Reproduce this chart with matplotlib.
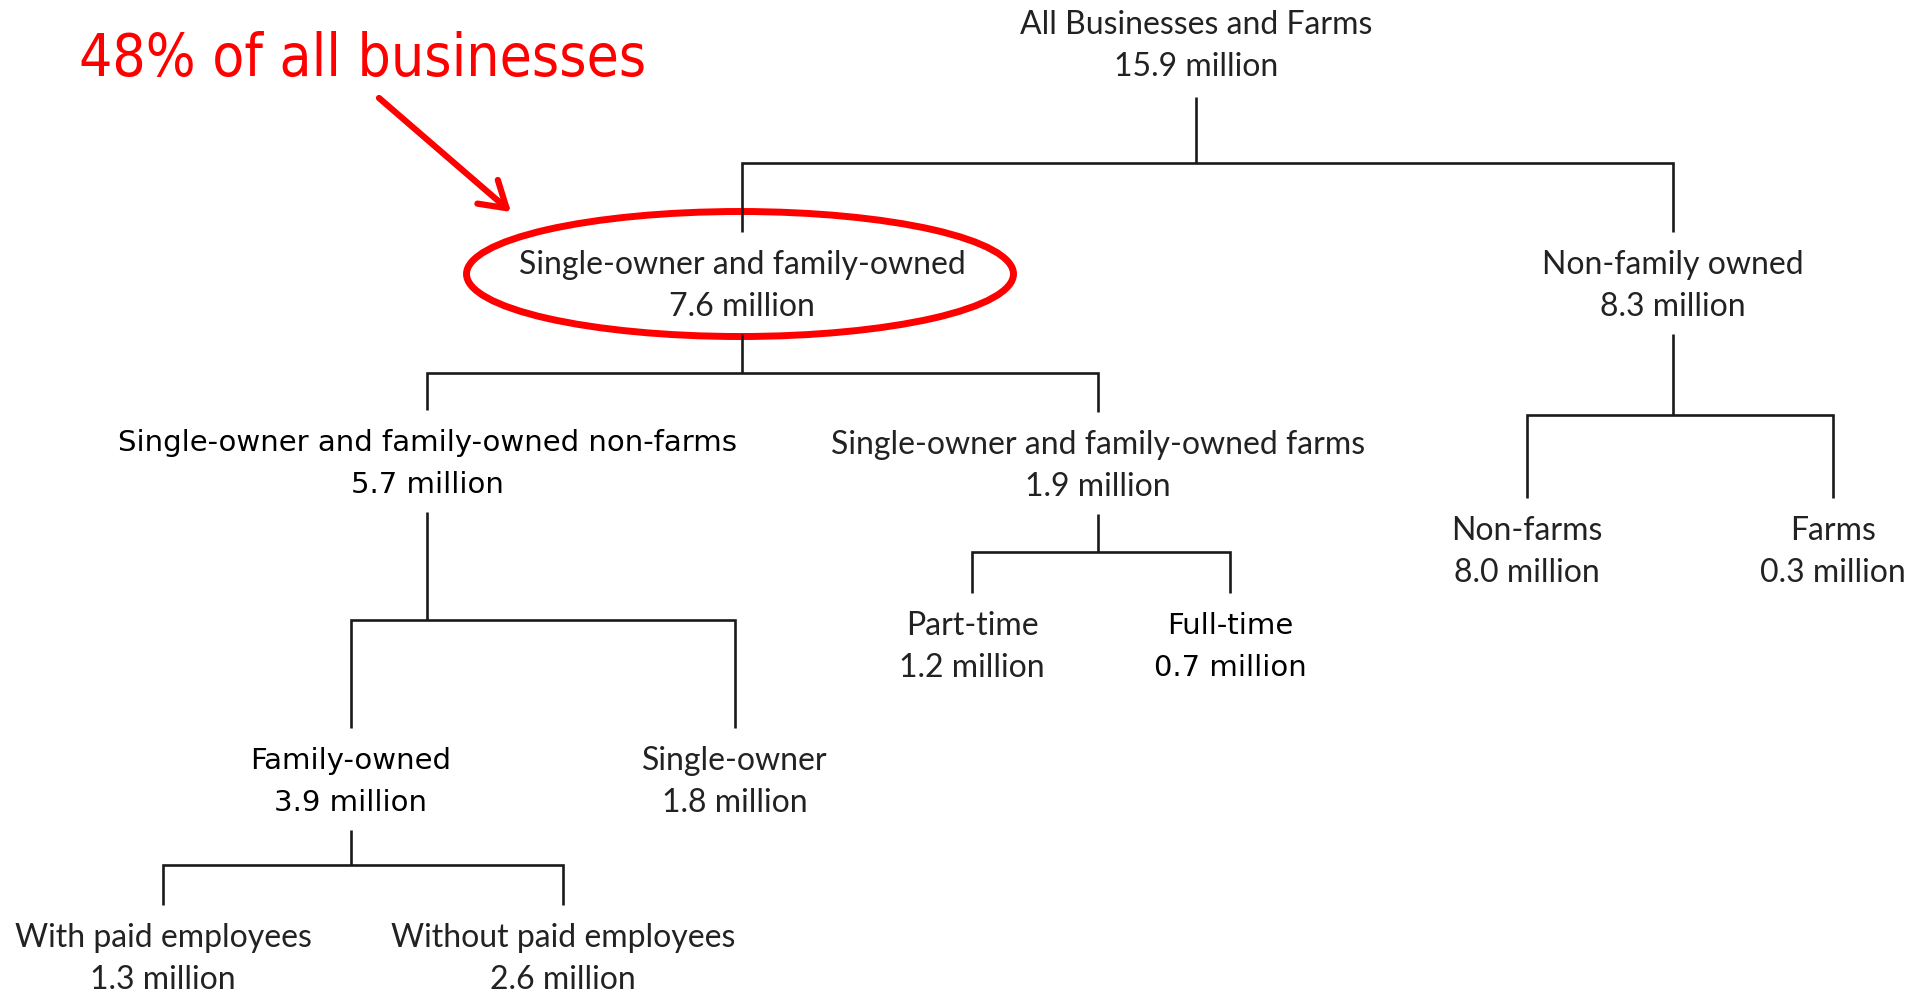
import matplotlib
matplotlib.use("Agg")
import matplotlib.pyplot as plt
from matplotlib.patches import Ellipse
from matplotlib import font_manager

# Данные: подписи узлов, число (млн) и родитель каждого узла
labels = ["All Businesses and Farms", "Single-owner and family-owned", "Non-family owned",
          "Single-owner and family-owned non-farms", "Single-owner and family-owned farms",
          "Non-farms", "Farms", "Part-time", "Full-time", "Family-owned", "Single-owner",
          "With paid employees", "Without paid employees"]
values = [15.9, 7.6, 8.3, 5.7, 1.9, 8.0, 0.3, 1.2, 0.7, 3.9, 1.8, 1.3, 2.6]
parents = [None, 0, 0, 1, 1, 2, 2, 4, 4, 3, 3, 9, 9]
highlight = 1
note = "48% of all businesses"

# Раскладка в пикселях холста 1917x993 (ось y вниз)
node_x = [1196, 742, 1673, 427, 1098, 1527, 1833, 972, 1230, 351, 735, 163, 563]
node_y = [25, 262, 262, 440, 442, 528, 528, 623, 623, 758, 758, 935, 935]
bar_y = {0: 163, 1: 373, 2: 415, 3: 620, 4: 552, 9: 865}
line_gap = 42   # между названием и числом
pad = 30        # отступ линий от текста
text_dy = 3     # сдвиг текста относительно линий
tahoma_like = {3, 8, 9}

W, H = 1917, 993
fig = plt.figure(figsize=(W / 100, H / 100), dpi=100)
ax = fig.add_axes([0, 0, 1, 1])
ax.set_xlim(0, W)
ax.set_ylim(H, 0)
ax.axis("off")

# Шрифт для красной надписи: сжатый DejaVu, если он есть
have_cond = any(f.name == "DejaVu Sans" and f.stretch == "condensed"
                for f in font_manager.fontManager.ttflist)

# Соединительные линии
for p, by in bar_y.items():
    kids = [i for i, q in enumerate(parents) if q == p]
    ax.plot([node_x[p], node_x[p]], [node_y[p] + line_gap + pad, by],
            color="#1a1a1a", lw=1.9, solid_capstyle="butt")
    xs = [node_x[k] for k in kids]
    left, right = kids[xs.index(min(xs))], kids[xs.index(max(xs))]
    ax.plot([node_x[left], node_x[left], node_x[right], node_x[right]],
            [node_y[left] - pad, by, by, node_y[right] - pad],
            color="#1a1a1a", lw=1.9, solid_joinstyle="miter", solid_capstyle="butt")

# Подписи узлов
for i, (lab, v) in enumerate(zip(labels, values)):
    if i in tahoma_like:
        kw = dict(family="DejaVu Sans", fontsize=21, color="black")
    else:
        kw = dict(family="Lato", fontsize=23, color="#222222")
    ty = node_y[i] + (text_dy if i else 0)
    ax.text(node_x[i], ty, lab, ha="center", va="center", **kw)
    ax.text(node_x[i], ty + line_gap, f"{v:.1f} million", ha="center", va="center", **kw)

# Красный овал вокруг выделенного узла
ax.add_patch(Ellipse((node_x[highlight] - 2, node_y[highlight] + 12), 547, 125,
                     fill=False, ec="red", lw=5))

# Стрелка и надпись
ax.annotate("", xy=(511, 212), xytext=(379, 98),
            arrowprops=dict(arrowstyle="->,head_length=0.4,head_width=0.25", lw=4.5,
                            color="red", mutation_scale=45, shrinkA=0, shrinkB=0))
if have_cond:
    ax.text(363, 76, note, ha="center", va="baseline", color="red",
            family="DejaVu Sans", stretch="condensed", fontsize=42)
else:
    ax.text(363, 76, note, ha="center", va="baseline", color="red",
            family="DejaVu Sans", fontsize=39)

fig.savefig("out.png", dpi=100, facecolor="white")
